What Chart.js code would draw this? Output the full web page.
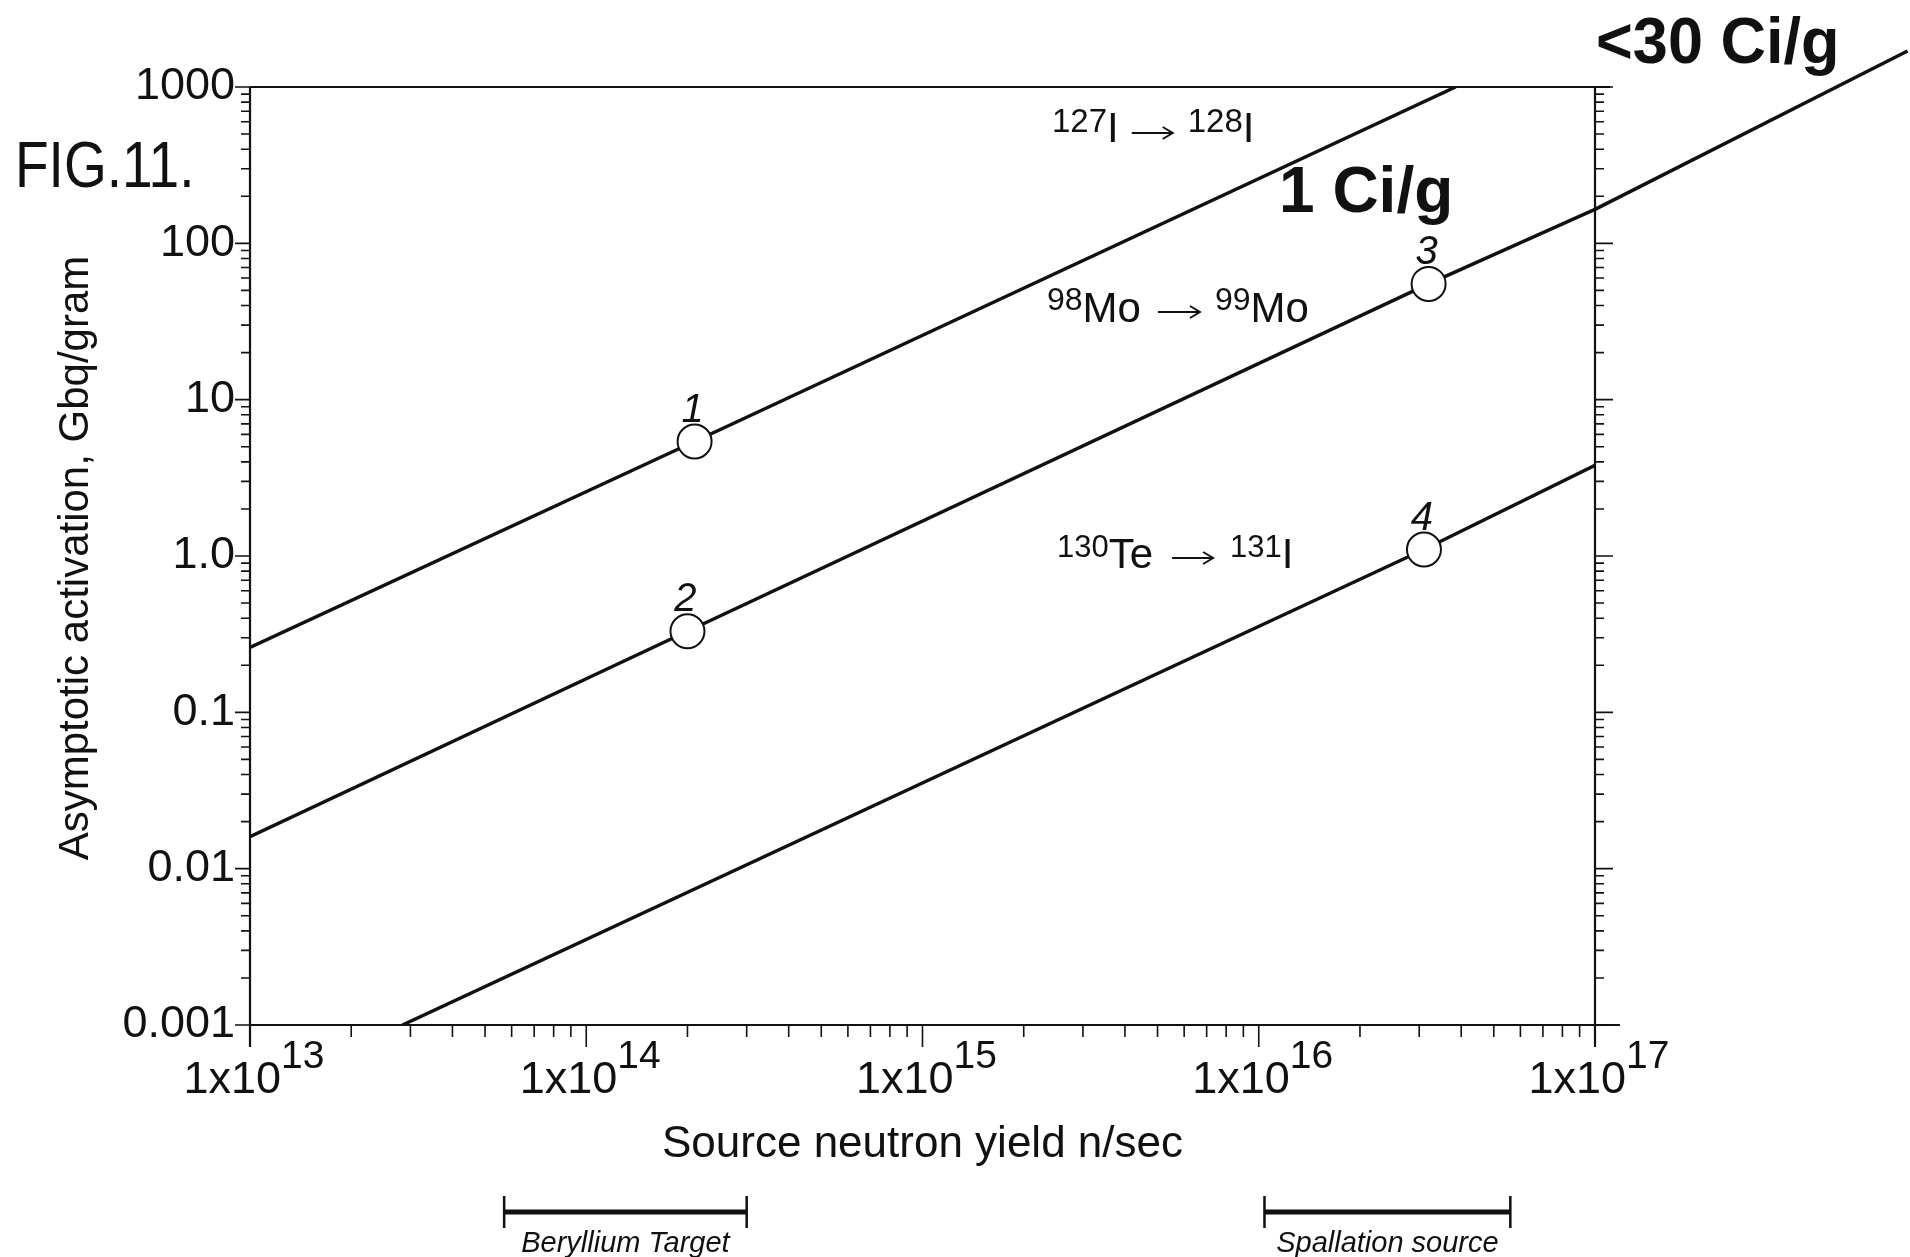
<!DOCTYPE html>
<html>
<head>
<meta charset="utf-8">
<title>FIG. 11 - Asymptotic activation vs source neutron yield</title>
<script src="https://cdn.jsdelivr.net/npm/chart.js@4.4.0/dist/chart.umd.min.js"></script>
<style>
  html, body { margin: 0; padding: 0; background: #fff; }
  #wrap { width: 1910px; height: 1257px; }
</style>
</head>
<body>
<div id="wrap"><canvas id="chart" width="1910" height="1257"></canvas></div>
<script>
// values (log-log: x = n/sec, y = GBq/gram)
const iodineX = [1e13, 2.1e14, 3.85e16];
const iodineY = [0.26, 5.4, 1000];
const molyX = [1e13, 2.0e14, 3.2e16, 1e17];
const molyY = [0.016, 0.33, 55, 165];
const telluriumX = [2.84e13, 3.1e16, 1e17];
const telluriumY = [0.001, 1.1, 3.8];
// hand-drawn extension of the Mo line past the frame
const extrapX = [1e17, 8.5e17];
const extrapY = [165, 1700];

const markerX = [2.1e14, 2.0e14, 3.2e16, 3.1e16];
const markerY = [5.4, 0.33, 55, 1.1];
const markerLabels = ["1", "2", "3", "4"];

const xDecades = [1e13, 1e14, 1e15, 1e16, 1e17];
const xExponents = ["13", "14", "15", "16", "17"];
const yDecades = [0.001, 0.01, 0.1, 1, 10, 100, 1000];
const yTickLabels = ["0.001", "0.01", "0.1", "1.0", "10", "100", "1000"];

const berylliumRange = [5.7e13, 3.0e14];
const spallationRange = [1.04e16, 5.6e16];

const FONT = '"Liberation Sans", Arial, Helvetica, sans-serif';

function pts(xs, ys) {
    return xs.map((x, i) => ({ x, y: ys[i] }));
}

function minorsOf(decades) {
    const out = [];
    decades.slice(0, -1).forEach((d) => {
        for (let k = 2; k <= 9; k++) out.push(k * d);
    });
    return out;
}

const base = (text, size, style = "") => ({ text, font: `${style} ${size}px ${FONT}`, dy: 0 });
const sup = (text, size, dy) => ({ text, font: `${size}px ${FONT}`, dy });
const arrow = (gapL, len, gapR, lift) => ({ arrow: true, gapL, len, gapR, lift });

// draws a run of text pieces (superscripts, thin arrows)
function drawRich(ctx, parts, x, y, align = "left") {
    let total = 0;
    parts.forEach((p) => {
        if (p.arrow) {
            p.w = p.gapL + p.len + p.gapR;
        } else {
            ctx.font = p.font;
            p.w = ctx.measureText(p.text).width;
        }
        total += p.w;
    });
    let cx = align === "center" ? x - total / 2 : align === "right" ? x - total : x;
    ctx.textAlign = "left";
    ctx.textBaseline = "alphabetic";
    parts.forEach((p) => {
        if (p.arrow) {
            const ay = y - p.lift;
            const x0 = cx + p.gapL, x1 = x0 + p.len;
            ctx.lineWidth = 2;
            ctx.beginPath();
            ctx.moveTo(x0, ay); ctx.lineTo(x1, ay);
            ctx.moveTo(x1 - 10, ay - 6); ctx.lineTo(x1, ay); ctx.lineTo(x1 - 10, ay + 6);
            ctx.stroke();
        } else {
            ctx.font = p.font;
            ctx.fillText(p.text, cx, y + p.dy);
        }
        cx += p.w;
    });
}

const notes = [
    { x: 1052, y: 142, parts: [sup("127", 33, -10), base("I", 42), arrow(13, 41, 15, 9), sup("128", 33, -10), base("I", 42)] },
    { x: 1047, y: 322, parts: [sup("98", 32, -12), base("Mo", 42), arrow(17, 42, 15, 10), sup("99", 32, -12), base("Mo", 42)] },
    { x: 1057, y: 568, parts: [sup("130", 31, -11), base("Te", 42), arrow(19, 41, 17, 10), sup("131", 31, -11), base("I", 42)] },
];

const decor = {
    id: "decor",
    afterDraw(chart) {
        const { ctx, chartArea: a, scales } = chart;
        const xs = scales.x, ys = scales.y;
        ctx.save();
        ctx.strokeStyle = "#111";
        ctx.fillStyle = "#111";

        // frame
        ctx.lineWidth = 2.2;
        ctx.beginPath();
        ctx.moveTo(a.left, a.top); ctx.lineTo(a.right + 15, a.top);
        ctx.moveTo(a.left, a.bottom); ctx.lineTo(a.right + 25, a.bottom);
        ctx.moveTo(a.left, a.top); ctx.lineTo(a.left, a.bottom + 22);
        ctx.moveTo(a.right, a.top); ctx.lineTo(a.right, a.bottom + 22);
        ctx.stroke();

        // ticks
        ctx.lineWidth = 1.6;
        ctx.beginPath();
        xDecades.forEach((v) => {
            const px = xs.getPixelForValue(v);
            ctx.moveTo(px, a.bottom); ctx.lineTo(px, a.bottom + 22);
        });
        minorsOf(xDecades).forEach((v) => {
            const px = xs.getPixelForValue(v);
            ctx.moveTo(px, a.bottom); ctx.lineTo(px, a.bottom + 12);
        });
        yDecades.forEach((v) => {
            const py = ys.getPixelForValue(v);
            ctx.moveTo(a.left - 15, py); ctx.lineTo(a.left, py);
            ctx.moveTo(a.right, py); ctx.lineTo(a.right + 18, py);
        });
        minorsOf(yDecades).forEach((v) => {
            const py = ys.getPixelForValue(v);
            ctx.moveTo(a.left - 9, py); ctx.lineTo(a.left, py);
            ctx.moveTo(a.right, py); ctx.lineTo(a.right + 9, py);
        });
        ctx.stroke();

        // y tick labels
        ctx.font = `45px ${FONT}`;
        ctx.textAlign = "right";
        ctx.textBaseline = "middle";
        yDecades.forEach((v, i) => {
            ctx.fillText(yTickLabels[i], a.left - 15, ys.getPixelForValue(v));
        });

        // x tick labels 1x10^n
        xDecades.forEach((v, i) => {
            drawRich(ctx, [base("1x10", 45), sup(xExponents[i], 39, -25)], xs.getPixelForValue(v) + 4, a.bottom + 68, "center");
        });

        // axis titles
        ctx.font = `44px ${FONT}`;
        ctx.textAlign = "center";
        ctx.textBaseline = "alphabetic";
        ctx.fillText("Source neutron yield n/sec", (a.left + a.right) / 2, 1157);
        ctx.save();
        ctx.translate(88, 558);
        ctx.rotate(-Math.PI / 2);
        ctx.font = `42px ${FONT}`;
        ctx.fillText("Asymptotic activation, Gbq/gram", 0, 0);
        ctx.restore();

        // figure number
        ctx.save();
        ctx.translate(15, 187);
        ctx.scale(0.86, 1);
        ctx.font = `64px ${FONT}`;
        ctx.textAlign = "left";
        ctx.fillText("FIG.11.", 0, 0);
        ctx.restore();

        // reaction labels
        notes.forEach((n) => drawRich(ctx, n.parts, n.x, n.y));

        // point numbers
        const meta = chart.getDatasetMeta(0);
        ctx.font = `italic 40px ${FONT}`;
        ctx.textAlign = "center";
        ctx.textBaseline = "alphabetic";
        meta.data.forEach((pt, i) => {
            ctx.fillText(markerLabels[i], pt.x - 2, pt.y - 20);
        });

        // activity call-outs
        ctx.textAlign = "left";
        ctx.font = `bold 64px ${FONT}`;
        ctx.fillText("1 Ci/g", 1279, 212);
        ctx.save();
        ctx.translate(1596, 63);
        ctx.scale(0.97, 1);
        ctx.font = `bold 65px ${FONT}`;
        ctx.fillText("<30 Ci/g", 0, 0);
        ctx.restore();

        // source ranges under the axis
        const barY = 1212;
        [[berylliumRange, "Beryllium Target"], [spallationRange, "Spallation source"]].forEach(([r, label]) => {
            const x0 = xs.getPixelForValue(r[0]);
            const x1 = xs.getPixelForValue(r[1]);
            ctx.lineWidth = 5;
            ctx.beginPath();
            ctx.moveTo(x0, barY); ctx.lineTo(x1, barY);
            ctx.stroke();
            ctx.lineWidth = 2.5;
            ctx.beginPath();
            ctx.moveTo(x0, barY - 16); ctx.lineTo(x0, barY + 16);
            ctx.moveTo(x1, barY - 16); ctx.lineTo(x1, barY + 16);
            ctx.stroke();
            ctx.font = `italic 29px ${FONT}`;
            ctx.textAlign = "center";
            ctx.fillText(label, (x0 + x1) / 2, barY + 40);
        });

        ctx.restore();
    },
};

const lineStyle = {
    borderColor: "#111",
    borderWidth: 3.5,
    pointRadius: 0,
    tension: 0,
    fill: false,
};

new Chart(document.getElementById("chart"), {
    type: "line",
    data: {
        datasets: [
            {
                label: "markers",
                data: pts(markerX, markerY),
                showLine: false,
                pointRadius: 17,
                pointBackgroundColor: "#fff",
                pointBorderColor: "#111",
                pointBorderWidth: 2,
            },
            { label: "127I -> 128I", data: pts(iodineX, iodineY), ...lineStyle },
            { label: "98Mo -> 99Mo", data: pts(molyX, molyY), ...lineStyle },
            { label: "130Te -> 131I", data: pts(telluriumX, telluriumY), ...lineStyle },
            { label: "extension", data: pts(extrapX, extrapY), ...lineStyle, clip: false },
        ],
    },
    options: {
        responsive: false,
        animation: false,
        layout: { padding: { left: 250, right: 315, top: 87, bottom: 232 } },
        plugins: { legend: { display: false }, tooltip: { enabled: false } },
        scales: {
            x: { type: "logarithmic", min: 1e13, max: 1e17, display: false },
            y: { type: "logarithmic", min: 0.001, max: 1000, display: false },
        },
    },
    plugins: [decor],
});
</script>
</body>
</html>
